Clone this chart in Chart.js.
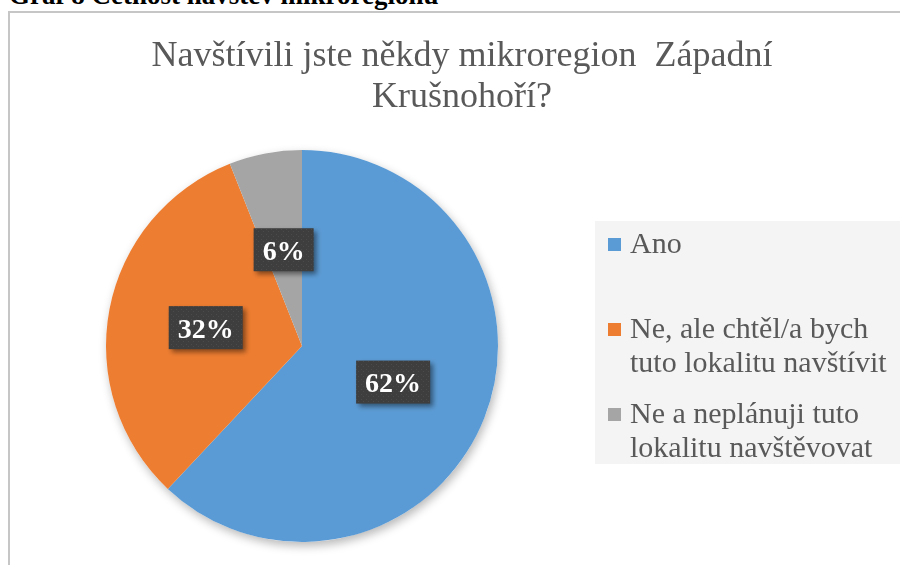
<!DOCTYPE html>
<html lang="cs">
<head>
<meta charset="utf-8">
<title>Graf 8 Četnost návštěv mikroregionu</title>
<script src="https://cdn.jsdelivr.net/npm/chart.js@4.4.1/dist/chart.umd.min.js"></script>
<style>
    html, body { margin: 0; padding: 0; background: #fff; width: 900px; height: 565px; overflow: hidden; }
    #caption {
        position: absolute; left: 9px; top: -18px;
        font: bold 27px/27px "Liberation Serif", "Times New Roman", serif;
        color: #000; white-space: nowrap;
    }
    #frame {
        position: absolute; left: 8px; top: 11px; width: 930px; height: 600px;
        border-left: 2px solid #c6c6c6; border-top: 2px solid #c6c6c6;
    }
    #frame canvas { position: absolute; left: 0; top: 0; }
</style>
</head>
<body>
<div id="caption">Graf 8 Četnost návštěv mikroregionu</div>
<div id="frame"><canvas id="visitChart" width="900" height="560"></canvas></div>
<script>
    // Chart data
    const categories = [
        ['Ano'],
        ['Ne, ale chtěl/a bych', 'tuto lokalitu navštívit'],
        ['Ne a neplánuji tuto', 'lokalitu navštěvovat']
    ];
    const shares = [62, 32, 6];
    const sliceColors = ['#5b9bd5', '#ed7d31', '#a5a5a5'];
    const titleLines = ['Navštívili jste někdy mikroregion  Západní', 'Krušnohoří?'];

    const SERIF = '"Liberation Serif", "Times New Roman", serif';

    // Dotted dark fill used behind the percentage labels
    function makeLabelPattern(ctx) {
        const tile = document.createElement('canvas');
        tile.width = 5;
        tile.height = 5;
        const t = tile.getContext('2d');
        t.fillStyle = '#3e3e3e';
        t.fillRect(0, 0, 5, 5);
        t.fillStyle = '#4b4b4b';
        t.fillRect(1, 1, 1, 1);
        t.fillRect(3, 3, 1, 1);
        return ctx.createPattern(tile, 'repeat');
    }

    // Soft shadow under the whole pie
    const pieShadow = {
        id: 'pieShadow',
        beforeDatasetsDraw(chart) {
            const arc = chart.getDatasetMeta(0).data[0];
            if (!arc) return;
            const ctx = chart.ctx;
            ctx.save();
            ctx.shadowColor = 'rgba(0, 0, 0, 0.28)';
            ctx.shadowBlur = 10;
            ctx.shadowOffsetX = 2;
            ctx.shadowOffsetY = 4;
            ctx.fillStyle = '#fff';
            ctx.beginPath();
            ctx.arc(arc.x, arc.y, arc.outerRadius, 0, Math.PI * 2);
            ctx.fill();
            ctx.restore();
        }
    };

    // Two-line title, centred over the whole frame
    const frameTitle = {
        id: 'frameTitle',
        afterDraw(chart) {
            const ctx = chart.ctx;
            ctx.save();
            ctx.font = '36px ' + SERIF;
            ctx.fillStyle = '#595959';
            ctx.textAlign = 'center';
            ctx.textBaseline = 'alphabetic';
            titleLines.forEach((line, i) => {
                ctx.fillText(line, 452, 53 + i * 41);
            });
            ctx.restore();
        }
    };

    // Legend on the right with wrapped labels
    const sideLegend = {
        id: 'sideLegend',
        afterDraw(chart) {
            const ctx = chart.ctx;
            const colors = chart.data.datasets[0].backgroundColor;
            ctx.save();
            ctx.fillStyle = '#f4f4f4';
            ctx.fillRect(585, 208, 305, 243);
            ctx.font = '30px ' + SERIF;
            ctx.textAlign = 'left';
            ctx.textBaseline = 'alphabetic';
            chart.data.labels.forEach((lines, i) => {
                const base = 240 + i * 85;
                ctx.fillStyle = colors[i];
                ctx.fillRect(598, base - 15, 13, 13);
                ctx.fillStyle = '#595959';
                lines.forEach((line, j) => {
                    ctx.fillText(line, 620, base + j * 34);
                });
            });
            ctx.restore();
        }
    };

    // Percentage boxes placed at each slice's centre point
    const pctLabels = {
        id: 'pctLabels',
        afterDatasetsDraw(chart) {
            const ctx = chart.ctx;
            const meta = chart.getDatasetMeta(0);
            const values = chart.data.datasets[0].data;
            const pattern = makeLabelPattern(ctx);
            ctx.save();
            ctx.font = 'bold 28px ' + SERIF;
            meta.data.forEach((arc, i) => {
                const pos = arc.tooltipPosition();
                const text = values[i] + '%';
                const w = ctx.measureText(text).width + 18;
                const h = 43;
                ctx.save();
                ctx.shadowColor = 'rgba(0, 0, 0, 0.45)';
                ctx.shadowBlur = 5;
                ctx.shadowOffsetX = 3;
                ctx.shadowOffsetY = 3;
                ctx.fillStyle = pattern;
                ctx.fillRect(pos.x - w / 2, pos.y - h / 2, w, h);
                ctx.restore();
                ctx.fillStyle = '#ffffff';
                ctx.textAlign = 'center';
                ctx.textBaseline = 'alphabetic';
                ctx.fillText(text, pos.x, pos.y + 10);
            });
            ctx.restore();
        }
    };

    const ctx = document.getElementById('visitChart');
    new Chart(ctx, {
        type: 'pie',
        data: {
            labels: categories,
            datasets: [{
                data: shares,
                backgroundColor: sliceColors,
                borderWidth: 0,
                hoverBorderWidth: 0,
                hoverOffset: 0,
                offset: 0
            }]
        },
        options: {
            responsive: false,
            animation: false,
            events: [],
            layout: {
                padding: { left: 96, top: 137, right: 412, bottom: 31 }
            },
            plugins: {
                legend: { display: false },
                title: { display: false },
                tooltip: { enabled: false }
            }
        },
        plugins: [pieShadow, pctLabels, frameTitle, sideLegend]
    });
</script>
</body>
</html>
